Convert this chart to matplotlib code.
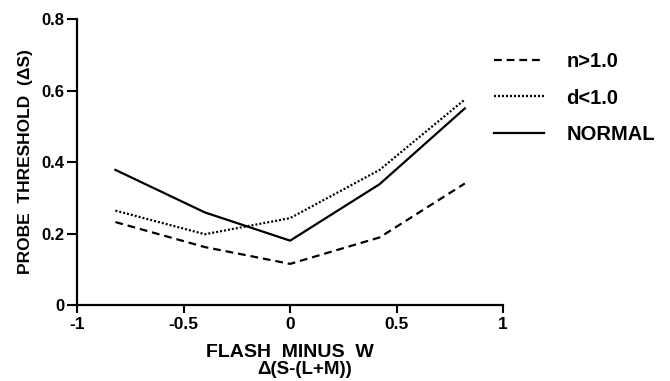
import matplotlib.pyplot as plt

# values
x_vals = [-0.82, -0.40, 0.0, 0.42, 0.82]
normal = [0.378, 0.259, 0.180, 0.338, 0.550]
d_low = [0.264, 0.198, 0.243, 0.378, 0.575]
n_high = [0.232, 0.162, 0.115, 0.189, 0.340]

x_ticks = [-1, -0.5, 0, 0.5, 1]
x_tick_labels = ["-1", "-0.5", "0", "0.5", "1"]
y_ticks = [0, 0.2, 0.4, 0.6, 0.8]
y_tick_labels = ["0", "0.2", "0.4", "0.6", "0.8"]


def main():
    plt.rcParams['font.family'] = ['Liberation Sans', 'DejaVu Sans']
    plt.rcParams['font.weight'] = 'bold'

    fig = plt.figure(figsize=(6.7, 3.81), dpi=100)
    ax = fig.add_axes([0.115, 0.1995, 0.636, 0.7505])

    ax.plot(x_vals, n_high, color='black', lw=1.6, dashes=(3.5, 2.2), label='n>1.0')
    ax.plot(x_vals, d_low, color='black', lw=1.6, dashes=(0.9, 0.9), label='d<1.0')
    ax.plot(x_vals, normal, color='black', lw=1.6, label='NORMAL')

    ax.set_xlim(-1, 1)
    ax.set_ylim(0, 0.8)
    ax.set_xticks(x_ticks)
    ax.set_xticklabels(x_tick_labels, fontsize=12.5, fontweight='bold')
    ax.set_yticks(y_ticks)
    ax.set_yticklabels(y_tick_labels, fontsize=12, fontweight='bold')
    ax.tick_params(axis='x', width=1.5, length=6, direction='out', pad=3)
    ax.tick_params(axis='y', width=1.5, length=7, direction='out', pad=2)

    for s in ['top', 'right']:
        ax.spines[s].set_visible(False)
    for s in ['left', 'bottom']:
        ax.spines[s].set_linewidth(1.6)

    ax.set_ylabel("PROBE  THRESHOLD  (ΔS)", fontsize=12.5, fontweight='bold', labelpad=6)
    ax.set_xlabel("FLASH  MINUS  W", fontsize=14, fontweight='bold', labelpad=8)
    fig.text(0.455, 0.008, "Δ(S-(L+M))", fontsize=13.5, fontweight='bold',
             ha='center', va='bottom')

    fig.legend(loc='upper left', bbox_to_anchor=(0.71, 0.91), frameon=False,
               fontsize=14.5, handlelength=2.5, handletextpad=1.1, labelspacing=0.85)

    fig.savefig("out.png", dpi=100)


if __name__ == '__main__':
    main()
